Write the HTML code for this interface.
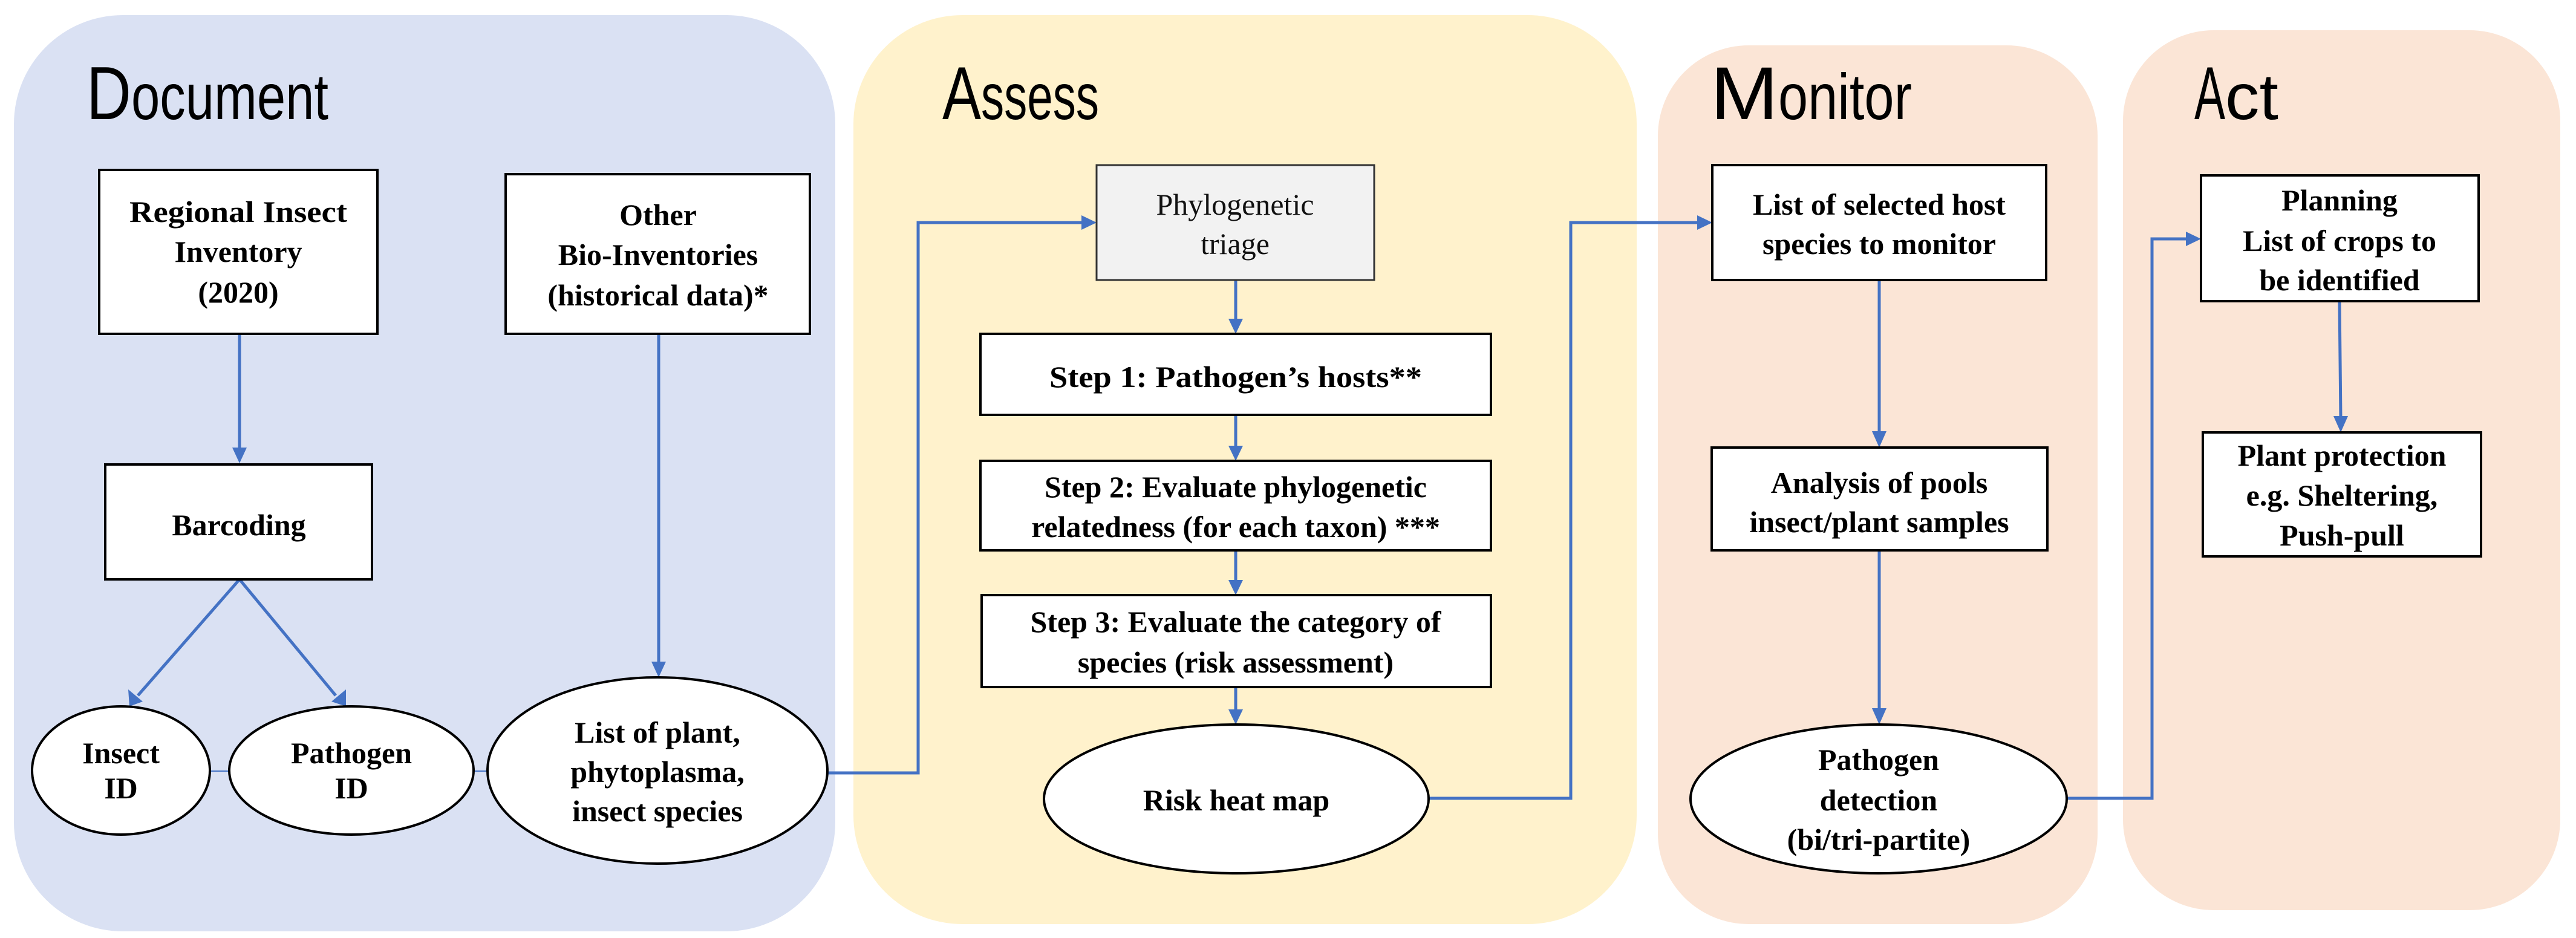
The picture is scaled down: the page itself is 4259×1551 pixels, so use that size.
<!DOCTYPE html>
<html><head><meta charset="utf-8"><style>
html,body{margin:0;padding:0;background:#fff;}
svg{display:block;}
.t{font-family:"Liberation Serif",serif;font-weight:bold;font-size:50px;fill:#000;text-anchor:middle;}
.r{font-family:"Liberation Serif",serif;font-size:50px;fill:#111;text-anchor:middle;}
.h{font-family:"Liberation Sans",sans-serif;fill:#000;}
.ln{stroke:#4472c4;stroke-width:5;fill:none;}
.box{fill:#fff;stroke:#000;stroke-width:4;}
</style></head><body>
<svg width="4259" height="1551" viewBox="0 0 4259 1551" xmlns="http://www.w3.org/2000/svg">
<defs>
<marker id="a" viewBox="0 0 10 10" refX="9" refY="5" markerWidth="5" markerHeight="5" orient="auto" markerUnits="userSpaceOnUse" style="overflow:visible">
</marker>
</defs>
<!-- panels -->
<rect x="23" y="25" width="1358" height="1515" rx="180" fill="#dae1f3"/>
<rect x="1411" y="25" width="1295" height="1503" rx="180" fill="#fff2cc"/>
<rect x="2741" y="75" width="727" height="1453" rx="150" fill="#fbe5d6"/>
<rect x="3510" y="50" width="723" height="1455" rx="150" fill="#fbe5d6"/>

<!-- titles -->
<text class="h" x="143" y="197" font-size="124" textLength="74" lengthAdjust="spacingAndGlyphs">D</text>
<text class="h" x="217" y="197" font-size="108" textLength="326" lengthAdjust="spacingAndGlyphs">ocument</text>
<text class="h" x="1558" y="197" font-size="124" textLength="64" lengthAdjust="spacingAndGlyphs">A</text>
<text class="h" x="1622" y="197" font-size="108" textLength="195" lengthAdjust="spacingAndGlyphs">ssess</text>
<text class="h" x="2828" y="197" font-size="124" textLength="112" lengthAdjust="spacingAndGlyphs">M</text>
<text class="h" x="2940" y="197" font-size="108" textLength="221" lengthAdjust="spacingAndGlyphs">onitor</text>
<text class="h" x="3628" y="197" font-size="124" textLength="51" lengthAdjust="spacingAndGlyphs">A</text>
<text class="h" x="3679" y="197" font-size="108" textLength="88" lengthAdjust="spacingAndGlyphs">ct</text>

<!-- connectors -->
<g class="ln">
<line x1="396" y1="552" x2="396" y2="745"/>
<line x1="396" y1="958" x2="228" y2="1150"/>
<line x1="396" y1="958" x2="555" y2="1150"/>
<line x1="1089" y1="552" x2="1089" y2="1098"/>
<polyline points="1368,1278 1518,1278 1518,368 1792,368"/>
<line x1="2043" y1="463" x2="2043" y2="532"/>
<line x1="2043" y1="686" x2="2043" y2="742"/>
<line x1="2043" y1="910" x2="2043" y2="964"/>
<line x1="2043" y1="1136" x2="2043" y2="1178"/>
<polyline points="2362,1320 2597,1320 2597,368 2812,368"/>
<line x1="3107" y1="463" x2="3107" y2="718"/>
<line x1="3107" y1="910" x2="3107" y2="1175"/>
<polyline points="3416,1320 3558,1320 3558,395 3620,395"/>
<line x1="3868" y1="498" x2="3870" y2="692"/>
</g>
<line x1="347" y1="1275" x2="379" y2="1275" stroke="#4472c4" stroke-width="2"/>
<line x1="784" y1="1275" x2="806" y2="1275" stroke="#4472c4" stroke-width="2"/>
<!-- arrowheads -->
<g fill="#4472c4">
<polygon points="384,740 408,740 396,766"/>
<polygon points="1077,1094 1101,1094 1089,1120"/>
<polygon points="212,1140 236,1160 214,1168"/>
<polygon points="548,1160 572,1140 572,1168"/>
<polygon points="1788,356 1788,380 1813,368"/>
<polygon points="2031,527 2055,527 2043,552"/>
<polygon points="2031,737 2055,737 2043,762"/>
<polygon points="2031,959 2055,959 2043,984"/>
<polygon points="2031,1173 2055,1173 2043,1198"/>
<polygon points="2806,356 2806,380 2831,368"/>
<polygon points="3095,713 3119,713 3107,740"/>
<polygon points="3095,1171 3119,1171 3107,1198"/>
<polygon points="3614,383 3614,407 3639,395"/>
<polygon points="3858,688 3882,688 3870,715"/>
</g>

<!-- Document nodes -->
<rect class="box" x="164" y="281" width="460" height="271"/>
<text class="t" x="394" y="367" textLength="360" lengthAdjust="spacingAndGlyphs">Regional Insect</text>
<text class="t" x="394" y="433">Inventory</text>
<text class="t" x="394" y="500">(2020)</text>

<rect class="box" x="836" y="288" width="503" height="264"/>
<text class="t" x="1088" y="372">Other</text>
<text class="t" x="1088" y="438">Bio-Inventories</text>
<text class="t" x="1088" y="505">(historical data)*</text>

<rect class="box" x="174" y="768" width="441" height="190" stroke-width="5"/>
<text class="t" x="395" y="885">Barcoding</text>

<ellipse class="box" cx="200" cy="1274" rx="147" ry="106"/>
<text class="t" x="200" y="1262">Insect</text>
<text class="t" x="200" y="1320">ID</text>
<ellipse class="box" cx="581" cy="1274" rx="202" ry="106"/>
<text class="t" x="581" y="1262">Pathogen</text>
<text class="t" x="581" y="1320">ID</text>
<ellipse class="box" cx="1087" cy="1274" rx="281" ry="154"/>
<text class="t" x="1087" y="1228" font-size="54">List of plant,</text>
<text class="t" x="1087" y="1293" font-size="54">phytoplasma,</text>
<text class="t" x="1087" y="1358" font-size="54">insect species</text>

<!-- Assess nodes -->
<rect x="1813" y="273" width="459" height="190" fill="#f2f2f2" stroke="#333" stroke-width="3"/>
<text class="r" x="2042" y="355">Phylogenetic</text>
<text class="r" x="2042" y="420">triage</text>
<rect class="box" x="1621" y="552" width="844" height="134"/>
<text class="t" x="2043" y="640" textLength="616" lengthAdjust="spacingAndGlyphs">Step 1: Pathogen’s hosts**</text>
<rect class="box" x="1621" y="762" width="844" height="148"/>
<text class="t" x="2043" y="822">Step 2: Evaluate phylogenetic</text>
<text class="t" x="2043" y="888">relatedness (for each taxon) ***</text>
<rect class="box" x="1623" y="984" width="842" height="152"/>
<text class="t" x="2043" y="1045">Step 3: Evaluate the category of</text>
<text class="t" x="2043" y="1112">species (risk assessment)</text>
<ellipse class="box" cx="2044" cy="1321" rx="318" ry="123"/>
<text class="t" x="2044" y="1340">Risk heat map</text>

<!-- Monitor nodes -->
<rect class="box" x="2831" y="273" width="552" height="190" stroke-width="3"/>
<text class="t" x="3107" y="355">List of selected host</text>
<text class="t" x="3107" y="420">species to monitor</text>
<rect class="box" x="2830" y="740" width="555" height="170" stroke-width="5"/>
<text class="t" x="3107" y="815">Analysis of pools</text>
<text class="t" x="3107" y="880">insect/plant samples</text>
<ellipse class="box" cx="3106" cy="1321" rx="311" ry="123"/>
<text class="t" x="3106" y="1273">Pathogen</text>
<text class="t" x="3106" y="1340">detection</text>
<text class="t" x="3106" y="1405">(bi/tri-partite)</text>

<!-- Act nodes -->
<rect class="box" x="3639" y="290" width="459" height="208" stroke-width="3"/>
<text class="t" x="3868" y="348">Planning</text>
<text class="t" x="3868" y="415">List of crops to</text>
<text class="t" x="3868" y="480">be identified</text>
<rect class="box" x="3642" y="715" width="460" height="205" stroke-width="3"/>
<text class="t" x="3872" y="770">Plant protection</text>
<text class="t" x="3872" y="836">e.g. Sheltering,</text>
<text class="t" x="3872" y="902">Push-pull</text>
</svg>
</body></html>
